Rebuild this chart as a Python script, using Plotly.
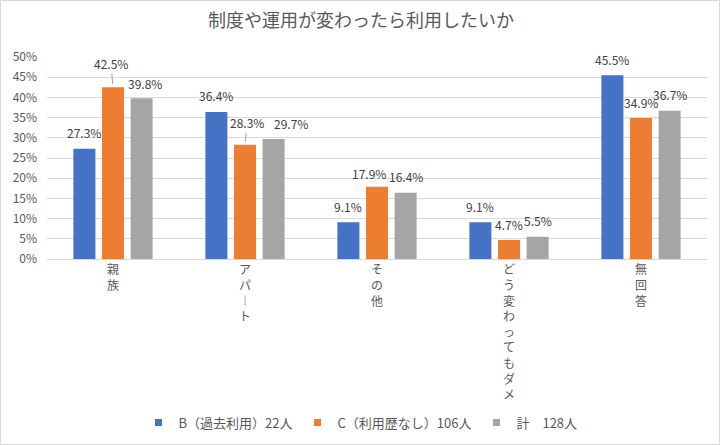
import plotly.graph_objects as go

categories = ["親族", "アパート", "その他", "どう変わってもダメ", "無回答"]
series_names = ["B（過去利用）22人", "C（利用歴なし）106人", "計　128人"]
b_values = [0.273, 0.364, 0.091, 0.091, 0.455]
c_values = [0.425, 0.283, 0.179, 0.047, 0.349]
t_values = [0.398, 0.297, 0.164, 0.055, 0.367]
colors = ["#4472C4", "#ED7D31", "#A5A5A5"]

FONT = "Noto Sans CJK JP"

# layout parameters
W, H = 720, 445
ML, MR, MT, MB = 47, 13, 57, 186
BARGAP, GROUPGAP = 0.35, 0.23
plot_w = W - ML - MR
slot = plot_w / len(categories) * (1 - BARGAP) / 3

# label nudges (dx, dy in px; leader = draw a leader line)
label_style = {
    (1, 0): dict(dx=-2, dy=24, leader=True),
    (2, 0): dict(dx=3, dy=15),
    (1, 1): dict(dx=2, dy=22, leader=True),
    (2, 1): dict(dx=17, dy=16),
    (1, 2): dict(dx=-8, dy=13),
}


def vertical(label):
    return "<br>".join("︱" if ch == "ー" else ch for ch in label)


tick_text = [vertical(c) for c in categories]

fig = go.Figure()
all_vals = [b_values, c_values, t_values]
for si, (name, vals, col) in enumerate(zip(series_names, all_vals, colors)):
    fig.add_trace(go.Bar(
        x=categories, y=vals, name=name, marker_color=col,
        marker_line_width=0, showlegend=False, hoverinfo="skip",
    ))
    fig.add_trace(go.Scatter(
        x=[None], y=[None], mode="markers", name=name,
        marker=dict(symbol="square", size=7, color=col),
        showlegend=True,
    ))
    for ci, v in enumerate(vals):
        st = label_style.get((si, ci), dict(dx=0, dy=16))
        base_shift = (si - 1) * slot
        txt = f"{v*100:.1f}%"
        if st.get("leader"):
            fig.add_annotation(
                x=categories[ci], y=v, text=txt, xshift=base_shift,
                showarrow=True, arrowhead=0, arrowwidth=1, arrowcolor="#A6A6A6",
                ax=st["dx"], ay=-st["dy"], standoff=3,
                font=dict(size=12, color="#404040", family=FONT),
            )
        else:
            fig.add_annotation(
                x=categories[ci], y=v, text=txt,
                xshift=base_shift + st["dx"], yshift=st["dy"],
                showarrow=False, yanchor="middle", xanchor="center",
                font=dict(size=12, color="#404040", family=FONT),
            )

fig.update_layout(
    width=W, height=H,
    margin=dict(l=ML, r=MR, t=MT, b=MB, autoexpand=False),
    paper_bgcolor="white", plot_bgcolor="white",
    font=dict(family=FONT, color="#595959", size=12),
    title=dict(text="制度や運用が変わったら利用したいか", x=361 / W, xanchor="center",
               y=1 - 21 / H, yanchor="middle",
               font=dict(size=18, color="#595959", family=FONT)),
    barmode="group", bargap=BARGAP, bargroupgap=GROUPGAP,
    showlegend=True,
    legend=dict(orientation="h", x=0.475, xanchor="center", y=-0.81, yanchor="middle",
                font=dict(size=13, color="#595959", family=FONT),
                itemwidth=30, traceorder="normal", tracegroupgap=0),
    shapes=[dict(type="rect", xref="paper", yref="paper",
                 x0=-(ML - 0.5) / plot_w, x1=(W - 0.5 - ML) / plot_w,
                 y0=-(H - 0.5 - (H - MB)) / (H - MT - MB), y1=1 + (MT - 0.5) / (H - MT - MB),
                 line=dict(color="#D9D9D9", width=1), fillcolor="rgba(0,0,0,0)",
                 layer="below")],
)
fig.update_yaxes(range=[0, 0.5], dtick=0.05, tickformat=".0%",
                 gridcolor="#D9D9D9", gridwidth=1, zeroline=False, automargin=False,
                 tickfont=dict(size=12, color="#595959"), ticks="", showline=False,
                 ticklabelstandoff=9)
fig.update_xaxes(tickmode="array", tickvals=categories, ticktext=tick_text,
                 showline=True, linecolor="#D9D9D9", linewidth=1, ticks="",
                 automargin=False,
                 tickfont=dict(size=12, color="#595959"), tickangle=0)

fig.write_html("out.html", config={"displayModeBar": False},
               post_script="document.body.style.margin='0';")
